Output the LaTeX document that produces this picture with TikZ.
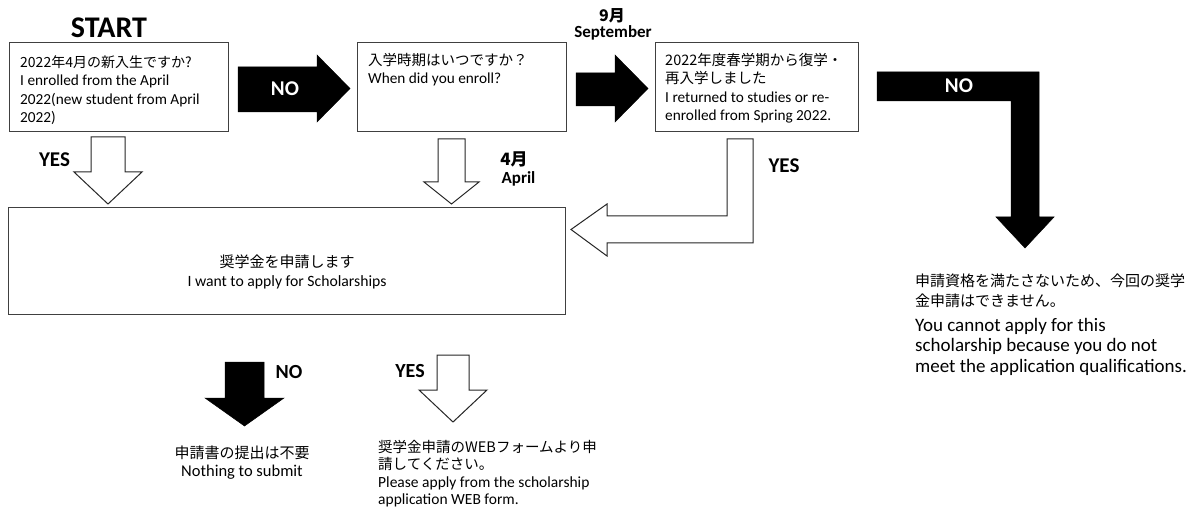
\documentclass[tikz,border=0pt]{standalone}
\usepackage{fontspec}
\setmainfont{Carlito}
\newfontfamily\jp{Noto Sans CJK JP}
\newcommand\jpt[2][14.5]{{\jp\fontsize{#1}{18.5}\selectfont #2}}
\begin{document}
\begin{tikzpicture}[x=1pt,y=-1pt,
  qbox/.style={draw=black!75, line width=1.3pt, inner sep=0pt, anchor=north west},
  txt/.style={inner sep=0pt, align=left, anchor=north west, font=\fontsize{15.3}{18.5}\selectfont},
  blk/.style={fill=black, draw=black, line width=0.5pt, line join=miter},
  wht/.style={fill=white, draw=black!85, line width=1pt, line join=miter},
  lbl/.style={inner sep=0pt, anchor=base, font=\bfseries\fontsize{21}{21}\selectfont},
  sml/.style={inner sep=0pt, anchor=base, font=\bfseries\fontsize{17}{17}\selectfont},
  ]
\useasboundingbox[fill=white] (0,0) rectangle (1194,513);

% boxes
\node[qbox, minimum width=219pt, minimum height=89pt] (q1) at (9,42) {};
\node[qbox, minimum width=209pt, minimum height=89pt] (q2) at (357,42) {};
\node[qbox, minimum width=203pt, minimum height=89pt] (q3) at (655,42) {};
\node[qbox, minimum width=557pt, minimum height=107pt] (apply) at (8,207) {};

% box texts
\node[txt] (t1) at (20,55) {\jpt[14]{2022年4月の新入生ですか?}\\I enrolled from the April\\2022(new student from April\\2022)};
\node[txt] (t2) at (368,53) {\jpt{入学時期はいつですか？}\\When did you enroll?};
\node[txt] (t3) at (665,53) {\jpt{2022年度春学期から復学・}\\\jpt{再入学しました}\\I returned to studies or re-\\enrolled from Spring 2022.};
\node[txt, align=center, anchor=north, font=\fontsize{15.7}{19}\selectfont] (t4) at (287,255) {\jpt[15]{奨学金を申請します}\\I want to apply for Scholarships};

% START
\node[inner sep=0pt, anchor=base, font=\bfseries\fontsize{30}{30}\selectfont] (start) at (109,38) {START};

% black arrow NO (q1 -> q2)
\filldraw[blk] (238,67) -- (317,67) -- (317,55) -- (350,88.5) -- (317,122) -- (317,112) -- (238,112) -- cycle;
\node[lbl, text=white] (no1) at (285,96) {NO};

% black arrow September (q2 -> q3)
\filldraw[blk] (576,73) -- (615,73) -- (615,55) -- (648,88.5) -- (615,122) -- (615,106) -- (576,106) -- cycle;
\node[sml, font=\bfseries\fontsize{16}{16}\selectfont] (m9) at (612,22) {\jp\bfseries 9月};
\node[sml] (sep) at (613,38) {September};

% bent black arrow NO from q3
\filldraw[blk] (877,72) -- (1039,72) -- (1039,217) -- (1054,217) -- (1025,248) -- (996,217) -- (1011,217) -- (1011,101) -- (877,101) -- cycle;
\node[lbl, text=white] (no3) at (959,93) {NO};

% white arrow YES from q1
\filldraw[wht] (91,137) -- (125,137) -- (125,172) -- (142,172) -- (108,204) -- (74,172) -- (91,172) -- cycle;
\node[lbl] (yes1) at (54.5,167) {YES};

% white arrow April from q2
\filldraw[wht] (438,139) -- (465,139) -- (465,182) -- (479,182) -- (451.5,204) -- (424,182) -- (438,182) -- cycle;
\node[sml] (m4) at (514,166) {\jp\bfseries 4月};
\node[sml] (apr) at (518.5,184) {April};

% bent white arrow YES from q3
\filldraw[wht] (727,139) -- (753,139) -- (753,243) -- (607,243) -- (607,256) -- (571,229.5) -- (607,204) -- (607,216) -- (727,216) -- cycle;
\node[lbl] (yes3) at (784,173) {YES};

% bottom black arrow NO
\filldraw[blk] (225,362) -- (264,362) -- (264,398) -- (284,398) -- (244.5,426) -- (205,398) -- (225,398) -- cycle;
\node[lbl, font=\bfseries\fontsize{20}{20}\selectfont] (no4) at (289,378) {NO};

% bottom white arrow YES
\filldraw[wht] (437,355) -- (469,355) -- (469,390) -- (487,390) -- (453,422) -- (419,390) -- (437,390) -- cycle;
\node[lbl, font=\bfseries\fontsize{20}{20}\selectfont] (yes4) at (410,377) {YES};

% bottom texts
\node[txt, align=center, anchor=north, font=\fontsize{16.5}{17.5}\selectfont] (nosub) at (242,446) {\jpt[15]{申請書の提出は不要}\\Nothing to submit};
\node[txt, font=\fontsize{15.5}{17.5}\selectfont] (web) at (378,440) {\jpt{奨学金申請のWEBフォームより申}\\\jpt{請してください。}\\Please apply from the scholarship\\application WEB form.};

% right texts
\node[txt, font=\fontsize{15}{19.5}\selectfont] (njp) at (915,274) {\jpt[15]{申請資格を満たさないため、今回の奨学}\\\jpt[15]{金申請はできません。}};
\node[txt, font=\fontsize{19}{20.5}\selectfont] (nen) at (915,318) {You cannot apply for this\\scholarship because you do not\\meet the application qualifications.};
\end{tikzpicture}
\end{document}
